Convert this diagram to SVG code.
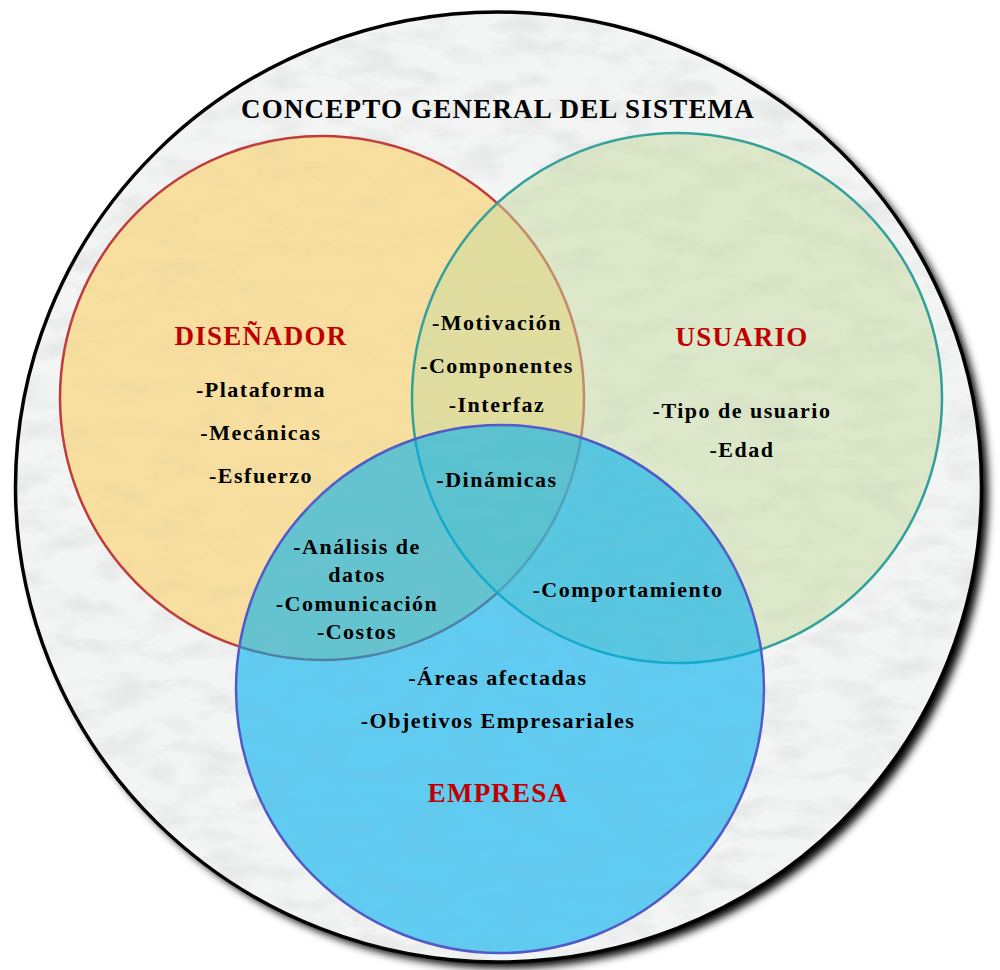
<svg xmlns="http://www.w3.org/2000/svg" width="1000" height="970" viewBox="0 0 1000 970">
  <defs>
    <filter id="shadow" x="-10%" y="-10%" width="120%" height="120%">
      <feGaussianBlur stdDeviation="4"/>
    </filter>
    <filter id="marble" x="0" y="0" width="100%" height="100%">
      <feTurbulence type="fractalNoise" baseFrequency="0.02 0.05" numOctaves="4" seed="7"/>
      <feColorMatrix type="matrix" values="0 0 0 0 0.55  0 0 0 0 0.57  0 0 0 0 0.57  2.2 0 0 0 -0.95"/>
    </filter>
    <clipPath id="disk">
      <ellipse cx="498.5" cy="487" rx="483" ry="475"/>
    </clipPath>
    <style>
      .set { stroke-width: 2.5; }
      .title { font-family: "Liberation Serif", "Times New Roman", serif; font-weight: bold; font-size: 27px; letter-spacing: 1.2px; fill: #000; text-anchor: middle; }
      .head { font-family: "Liberation Serif", "Times New Roman", serif; font-weight: bold; font-size: 27px; letter-spacing: 1.2px; fill: #C00000; text-anchor: middle; }
      .item { font-family: "Liberation Serif", "Times New Roman", serif; font-weight: bold; font-size: 22px; letter-spacing: 1.5px; fill: #000; text-anchor: middle; }
    </style>
  </defs>

  <!-- outer disk with drop shadow -->
  <g id="frame">
    <ellipse cx="505" cy="493" rx="483" ry="475" fill="#000" filter="url(#shadow)"/>
    <ellipse cx="498.5" cy="487" rx="483" ry="475" fill="#F3F4F4"/>
    <g clip-path="url(#disk)" opacity="0.22">
      <rect x="0" y="0" width="1000" height="970" filter="url(#marble)"/>
    </g>
    <ellipse cx="498.5" cy="487" rx="483" ry="475" fill="none" stroke="#000" stroke-width="3.5"/>
  </g>

  <!-- the three sets -->
  <g id="disenador">
    <circle class="set" cx="322" cy="398" r="262" fill="#F9D98A" fill-opacity="0.8" stroke="#C0393B"/>
  </g>
  <g id="usuario">
    <circle class="set" cx="677" cy="398" r="265" fill="#C8DCA0" fill-opacity="0.5" stroke="#31A09A"/>
  </g>
  <g id="empresa">
    <circle class="set" cx="500" cy="689" r="264" fill="#00B0F0" fill-opacity="0.6" stroke="#5059C8"/>
  </g>

  <!-- faint texture across the sets -->
  <g clip-path="url(#disk)" opacity="0.08">
    <rect x="0" y="0" width="1000" height="970" filter="url(#marble)"/>
  </g>

  <g id="connectors"/>

  <!-- labels -->
  <g id="labels">
    <text class="title" x="498" y="118">CONCEPTO GENERAL DEL SISTEMA</text>

    <text class="head" x="261" y="345">DISEÑADOR</text>
    <text class="item" x="261" y="397">-Plataforma</text>
    <text class="item" x="261" y="440">-Mecánicas</text>
    <text class="item" x="261" y="483">-Esfuerzo</text>

    <text class="head" x="742" y="346">USUARIO</text>
    <text class="item" x="742" y="418">-Tipo de usuario</text>
    <text class="item" x="742" y="457">-Edad</text>

    <text class="item" x="497" y="330">-Motivación</text>
    <text class="item" x="497" y="373">-Componentes</text>
    <text class="item" x="497" y="412">-Interfaz</text>
    <text class="item" x="497" y="487">-Dinámicas</text>

    <text class="item" x="357" y="554">-Análisis de</text>
    <text class="item" x="357" y="582">datos</text>
    <text class="item" x="357" y="611">-Comunicación</text>
    <text class="item" x="357" y="639">-Costos</text>

    <text class="item" x="628" y="597">-Comportamiento</text>

    <text class="item" x="498" y="685">-Áreas afectadas</text>
    <text class="item" x="498" y="728">-Objetivos Empresariales</text>
    <text class="head" x="498" y="802">EMPRESA</text>
  </g>
</svg>
